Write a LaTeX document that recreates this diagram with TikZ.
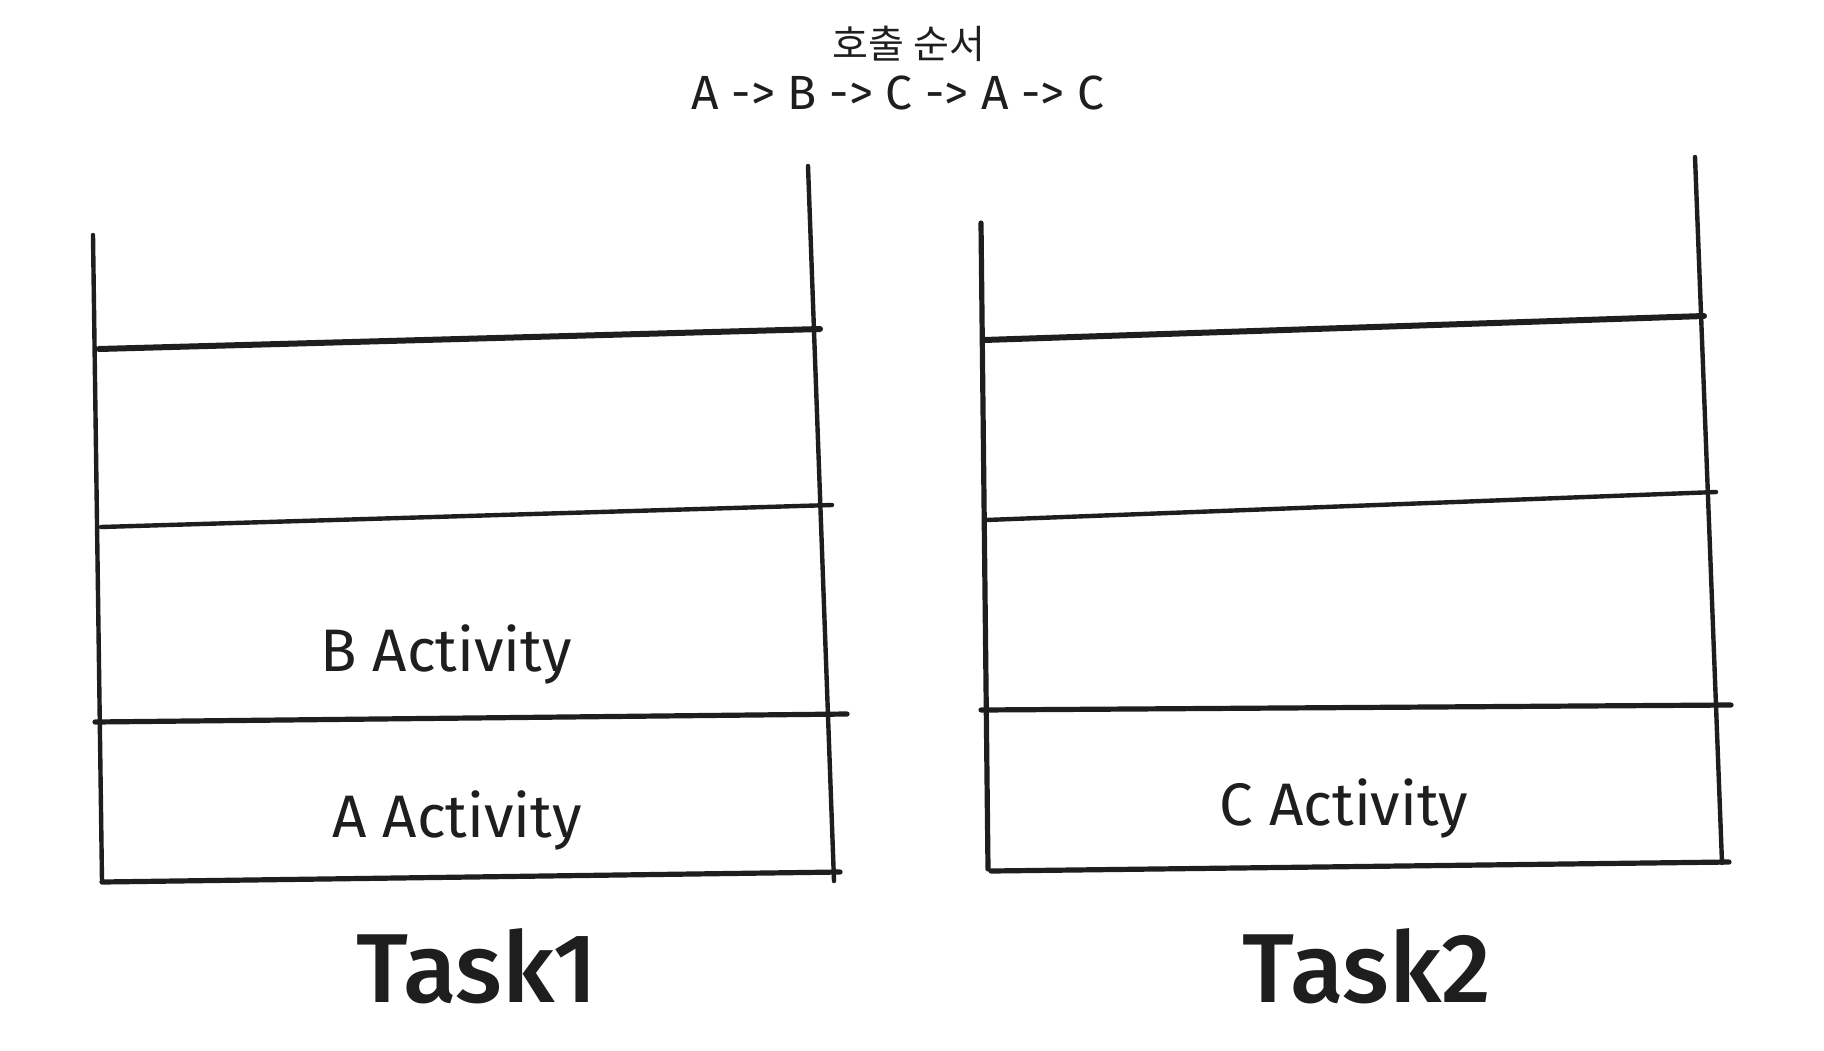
\documentclass[tikz,border=0pt]{standalone}
\usepackage{fontspec}
\setmainfont{Fira Sans}
\newfontfamily\krfont{Noto Sans CJK KR}
\newfontfamily\taskfont{Fira Sans Medium}
\usetikzlibrary{positioning}
\definecolor{ink}{HTML}{1E1E1E}
\tikzset{
    stackwall/.style={draw=ink, line width=2.2pt, line cap=round},
    stackslot/.style={draw=ink, line width=2.2pt, line cap=round},
    slotlabel/.style={text=ink, font=\fontsize{30}{36}\selectfont},
    tasklabel/.style={text=ink, font=\taskfont\fontsize{49}{56}\selectfont}
}

\begin{document}
\begin{tikzpicture}[x=0.5pt, y=-0.5pt]
\useasboundingbox (0,0) rectangle (1824,1050);
% call order
\node[text=ink, font=\krfont\fontsize{19.5}{22}\selectfont] (title) at (909,44) {호출 순서};
\node[text=ink, font=\fontsize{24}{28}\selectfont] (order) at (898,93) {A -> B -> C -> A -> C};

% Task1 stack
\coordinate (t1lt) at (93,235);   \coordinate (t1lb) at (102,881);
\coordinate (t1rt) at (808,166);  \coordinate (t1rb) at (834,881);
\draw[stackwall] (t1lt) -- (t1lb);
\draw[stackwall] (t1rt) -- (t1rb);
\draw[stackslot, line width=3pt] (99,349) -- (820,329);
\draw[stackslot] (101,527) -- (832,505);
\draw[stackslot, line width=2.6pt] (95,722) -- (847,714);
\draw[stackslot, line width=2.6pt] (102,882) -- (840,872);
\node[slotlabel] (bact) at (446,654) {B Activity};
\node[slotlabel] (aact) at (457,820) {A Activity};
\node[tasklabel] (task1) at (477,966) {Task1};

% Task2 stack
\coordinate (t2lt) at (981,223);  \coordinate (t2lb) at (988,869);
\coordinate (t2rt) at (1695,157); \coordinate (t2rb) at (1722,863);
\draw[stackwall, line width=2.6pt] (t2lt) -- (t2lb);
\draw[stackwall] (t2rt) -- (t2rb);
\draw[stackslot, line width=3pt] (984,340) -- (1704,316);
\draw[stackslot] (986,520) -- (1716,492);
\draw[stackslot, line width=2.6pt] (981,710) -- (1731,705);
\draw[stackslot, line width=2.6pt] (991,871) -- (1729,862);
\node[slotlabel] (cact) at (1344,808) {C Activity};
\node[tasklabel] (task2) at (1367,966) {Task2};
\end{tikzpicture}
\end{document}
